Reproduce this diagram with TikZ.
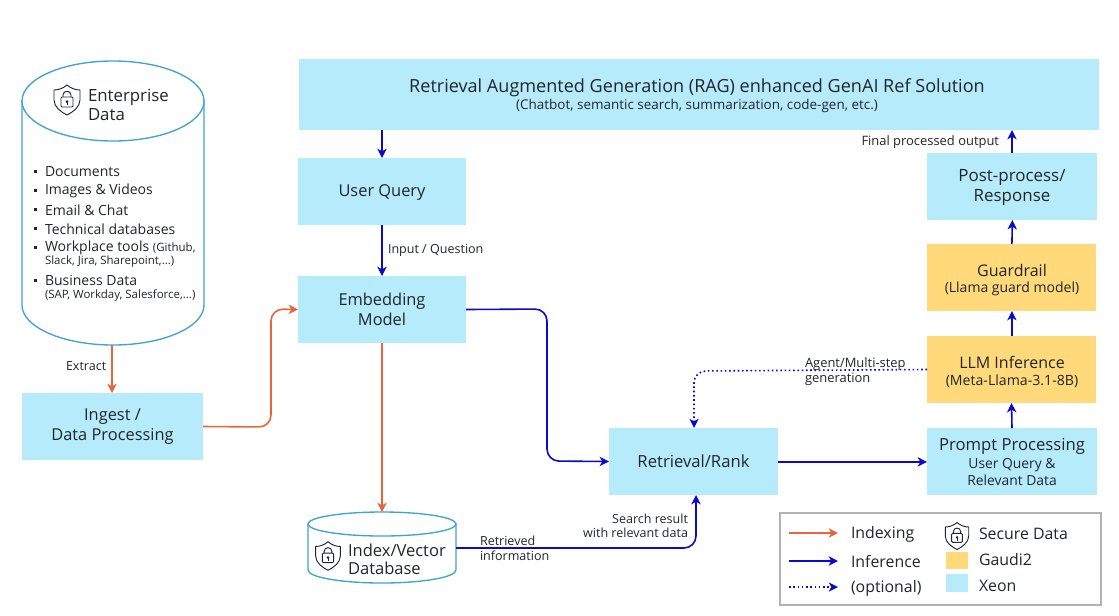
\documentclass[tikz,border=0pt]{standalone}
\usepackage{fontspec}
\setmainfont{Open Sans}
\usetikzlibrary{arrows.meta,calc}
\definecolor{xeon}{HTML}{B5EBFB}
\definecolor{gaudi}{HTML}{FFD97A}
\definecolor{idxc}{HTML}{E8643A}
\definecolor{infc}{HTML}{0A0ACD}
\definecolor{cylc}{HTML}{3FA3D2}
\definecolor{inkc}{HTML}{20262C}
\newcommand{\fs}[1]{\fontsize{#1}{#1}\selectfont}
\tikzset{
  x=0.75pt,y=-0.75pt,
  every node/.style={text=inkc,inner sep=0pt,outer sep=0pt},
  xeonbox/.style={fill=xeon,draw=none,minimum width=#1*0.75pt,minimum height=50.25pt,align=center,anchor=north west},
  xeonbox/.default=169,
  gaudibox/.style={xeonbox,fill=gaudi},
  idx/.style={draw=idxc,line width=1.2pt,rounded corners=9pt,-{Stealth[length=7pt,width=7pt,inset=2pt]}},
  inf/.style={draw=infc,line width=1.2pt,rounded corners=9pt,-{Stealth[length=7pt,width=7pt,inset=2pt]}},
  opt/.style={draw=infc,line width=1.2pt,dotted,rounded corners=9pt,-{Stealth[length=7pt,width=7pt,inset=2pt,line width=0pt]}},
  tl/.style={anchor=west,align=left},
  small/.style={tl,font=\fs{9.4}},
  lst/.style={tl,font=\fs{10.5}},
  lsts/.style={tl,font=\fs{8.6}},
  legtxt/.style={tl,font=\fs{11.9}},
  cyl/.style={draw=cylc,line width=1pt,fill=white},
  blt/.style={fill=inkc},
  shieldicon/.pic={
    \draw[inkc,line width=0.7pt,line join=round] (0,-15) .. controls (-4,-11.5) and (-9,-10) .. (-13,-10)
      -- (-13,0) .. controls (-13,7) and (-6,12) .. (0,15) .. controls (6,12) and (13,7) .. (13,0)
      -- (13,-10) .. controls (9,-10) and (4,-11.5) .. (0,-15) -- cycle;
    \draw[inkc,line width=0.7pt,rounded corners=0.8pt] (-6,-3) rectangle (6,7);
    \draw[inkc,line width=0.7pt] (-4,-3) -- (-4,-5) .. controls (-4,-10) and (4,-10) .. (4,-5) -- (4,-3);
    \fill[inkc] (0,1.5) circle (1.5);
    \draw[inkc,line width=0.7pt] (0,1.5) -- (0,5);
  }
}
\begin{document}
\begin{tikzpicture}
\useasboundingbox (0,0) rectangle (1119,615);
\fill[white] (0,0) rectangle (1119,615);

% Boxes
\node[xeonbox=800,minimum height=53.25pt] (rag) at (299,59) {};
\node[font=\fs{13.55}] at (697,87.5) {Retrieval Augmented Generation (RAG) enhanced GenAI Ref Solution};
\node[font=\fs{10.1}] at (697,106) {(Chatbot, semantic search, summarization, code-gen, etc.)};
\node[xeonbox=168,font=\fs{12.3}] (uq) at (298,158) {};
\node[font=\fs{12.3}] at (382,193) {User Query};
\node[xeonbox=168,font=\fs{12.3}] (emb) at (298,276) {Embedding\\[2.5pt]Model};
\node[xeonbox=181,font=\fs{12.3}] (ing) at (22,393) {};
\node[font=\fs{12.3}] at (112.5,417) {Ingest /};
\node[font=\fs{12.3}] at (112.5,436.5) {Data Processing};
\node[xeonbox=169,font=\fs{12.5}] (ret) at (609,428) {Retrieval/Rank};
\node[xeonbox=170] (pp) at (927,428) {};
\node[font=\fs{12.5}] at (1012,446) {Prompt Processing};
\node[font=\fs{10.4},align=center] at (1012,472) {User Query \&\\[2pt]Relevant Data};
\node[gaudibox=170] (llm) at (927,336) {};
\node[font=\fs{12}] at (1012,362) {LLM Inference};
\node[font=\fs{10.6}] at (1012,381) {(Meta-Llama-3.1-8B)};
\node[gaudibox=170] (gr) at (927,244) {};
\node[font=\fs{12}] at (1012,270) {Guardrail};
\node[font=\fs{10.5}] at (1012,288.5) {(Llama guard model)};
\node[xeonbox=170] (post) at (927,153) {};
\node[font=\fs{12.7}] at (1012,177) {Post-process/};
\node[font=\fs{12.7}] at (1012,197) {Response};

% Enterprise cylinder
\node[anchor=north west,minimum width=136.5pt,minimum height=213pt] (ent) at (22,61) {};
\draw[cyl] (22,101) -- (22,305) arc[x radius=91,y radius=40,start angle=180,end angle=0] -- (204,101) -- cycle;
\draw[cyl] (113,101) ellipse[x radius=91,y radius=40];
\pic at (67,100) {shieldicon};
\node[tl,font=\fs{12.6}] at (88,97) {Enterprise};
\node[tl,font=\fs{12.6}] at (88,115) {Data};
\foreach \yy in {171,190,209,228,247,280} \fill[blt] (34,\yy-1.5) rectangle (37,\yy+1.5);
\node[lst] at (45,172) {Documents};
\node[lst] at (45,191) {Images \& Videos};
\node[lst] at (45,210) {Email \& Chat};
\node[lst] at (45,229) {Technical databases};
\node[lst] at (45,248) {Workplace tools \fs{8.6}(Github,};
\node[lsts] at (45,262) {Slack, Jira, Sharepoint,...)};
\node[lst] at (45,280.5) {Business Data};
\node[lsts] at (45,295) {(SAP, Workday, Salesforce,...)};

% Index cylinder
\node[anchor=north west,minimum width=111pt,minimum height=53.25pt] (db) at (308,512) {};
\draw[cyl] (308,524) -- (308,570) arc[x radius=74,y radius=13,start angle=180,end angle=0] -- (456,524) -- cycle;
\draw[cyl] (382,524) ellipse[x radius=74,y radius=12];
\pic[scale=0.95] at (328,556) {shieldicon};
\node[tl,font=\fs{12.4}] at (348,550) {Index/Vector};
\node[tl,font=\fs{12.4}] at (348,568) {Database};

% Connectors
\draw[inf] (rag.south -| uq.north) -- (uq.north);
\draw[inf] (uq) -- (emb);
\draw[idx] (ent.south -| 112,0) -- (ing.north -| 112,0);
\draw[idx] (ing.east) -- (271,427) -- (271,309) -- (emb.west);
\draw[inf] (emb.east) -- (547,309) -- (547,461) -- (ret.west);
\draw[idx] (emb.south) -- (db.north -| emb.south);
\draw[inf] (db.east |- 0,548) -- (696,548) -- (696,495);
\draw[inf] ([yshift=-0.3pt]ret.east) -- ([yshift=-0.3pt]pp.west);
\draw[inf] (pp.north) -- (llm.south);
\draw[inf] ([xshift=0.3pt]llm.north) -- ([xshift=0.3pt]gr.south);
\draw[inf] ([xshift=0.3pt]gr.north) -- ([xshift=0.3pt]post.south);
\draw[inf] (post.north) -- (post.north |- rag.south);
\draw[opt] (llm.west) -- (694,371) -- (694,428);

% Connector labels
\node[small] at (388,250.5) {Input / Question};
\node[small] at (66,366) {Extract};
\node[small,anchor=east,font=\fs{9.7}] at (999,142) {Final processed output};
\node[small,font=\fs{9.7}] at (805,364) {Agent/Multi-step};
\node[small,font=\fs{9.7}] at (805,379) {generation};
\node[small] at (480,541) {Retrieved};
\node[small] at (480,556) {information};
\node[small,anchor=east] at (688,519) {Search result};
\node[small,anchor=east] at (688,533) {with relevant data};

% Legend
\node[anchor=north west,draw=black!30,line width=0.8pt,minimum width=240.75pt,minimum height=69pt] (leg) at (780,513) {};
\coordinate (a1) at (789,533); \coordinate (a1e) at (838,533);
\coordinate (a2) at (789,561); \coordinate (a2e) at (838,561);
\coordinate (a3) at (789,587); \coordinate (a3e) at (838,587);
\draw[idx] (a1) -- (a1e);
\draw[inf] (a2) -- (a2e);
\draw[opt] (a3) -- (a3e);
\node[legtxt] at (851,534) {Indexing};
\node[legtxt] at (851,561) {Inference};
\node[legtxt] at (851,588) {(optional)};
\pic[scale=0.9] at (957,536) {shieldicon};
\node[legtxt] at (979,534) {Secure Data};
\node[anchor=north west,fill=gaudi,minimum width=16.5pt,minimum height=13pt] (sg) at (946,552) {};
\node[anchor=north west,fill=xeon,minimum width=16.5pt,minimum height=13.5pt] (sx) at (946,574) {};
\node[legtxt] at (979,560) {Gaudi2};
\node[legtxt] at (979,586) {Xeon};
\end{tikzpicture}
\end{document}
